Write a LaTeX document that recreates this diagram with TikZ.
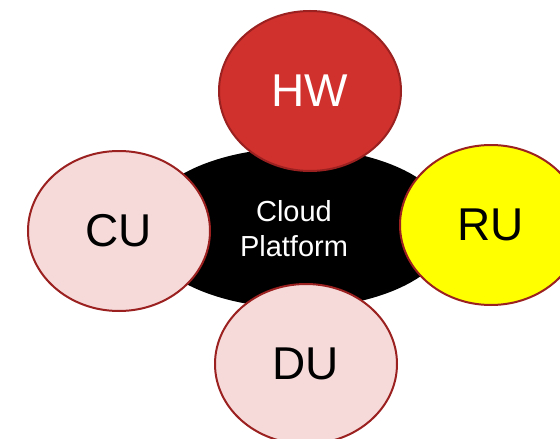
\documentclass[tikz,border=0pt]{standalone}
\usepackage{fontspec}
\setmainfont{Liberation Sans}
\usetikzlibrary{shapes.geometric}
\definecolor{hwred}{RGB}{208,49,45}
\definecolor{rim}{RGB}{155,32,32}
\definecolor{pinkfill}{RGB}{246,218,218}
\definecolor{ylw}{RGB}{255,255,0}
\tikzset{
  unit/.style={ellipse, draw=rim, line width=2pt, inner sep=0pt,
    minimum width=182pt, minimum height=160pt,
    font=\fontsize{46}{52}\selectfont},
  core/.style={ellipse, fill=black, inner sep=0pt,
    minimum width=310pt, minimum height=160pt},
  coretext/.style={text=white, align=center, inner sep=0pt,
    font=\fontsize{29}{35}\selectfont}
}
\begin{document}
\begin{tikzpicture}[x=1pt,y=-1pt]
\clip (0,0) rectangle (560,439);
\fill[white] (0,0) rectangle (560,439);
\node[core] (cloud) at (297,228) {};
\node[coretext] (cloudtext) at (294,229) {Cloud\\Platform};
\node[unit, fill=hwred, text=white] (hw) at (310,91) {HW};
\node[unit, fill=pinkfill] (cu) at (119,231) {CU};
\node[unit, fill=ylw] (ru) at (491,225) {RU};
\node[unit, fill=pinkfill] (du) at (306,364) {DU};
\end{tikzpicture}
\end{document}
